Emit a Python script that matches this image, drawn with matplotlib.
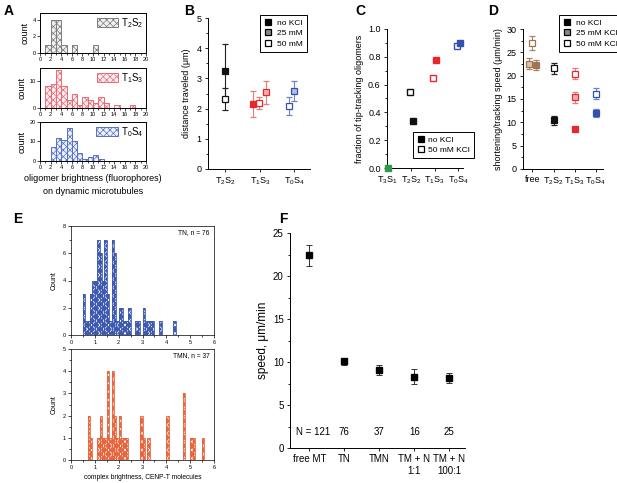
import matplotlib
matplotlib.use('Agg')
import matplotlib.pyplot as plt
import numpy as np
from matplotlib.ticker import MultipleLocator
from matplotlib.lines import Line2D

plt.rcParams['font.family'] = ['Liberation Sans', 'DejaVu Sans']
plt.rcParams['mathtext.fontset'] = 'custom'
plt.rcParams['mathtext.rm'] = 'Liberation Sans'
plt.rcParams['mathtext.it'] = 'Liberation Sans'
plt.rcParams['hatch.linewidth'] = 0.5
plt.rcParams['axes.linewidth'] = 0.7

# ---------------- data ----------------
# A: oligomer brightness histograms (bin left edge, count)
a_t2s2_left = [1, 2, 3, 4, 6, 10]
a_t2s2_count = [1, 4, 4, 1, 1, 1]
a_t1s3_left = [1, 2, 3, 4, 5, 6, 7, 8, 9, 10, 11, 12, 14, 17]
a_t1s3_count = [8, 9, 14, 8, 3, 5, 1, 4, 3, 2, 4, 2, 1, 1]
a_t0s4_left = [2, 3, 4, 5, 6, 7, 8, 9, 10, 11]
a_t0s4_count = [7, 12, 11, 17, 10, 4, 1, 2, 3, 1]

# B: distance traveled (um)
b_groups = ['T$_2$S$_2$', 'T$_1$S$_3$', 'T$_0$S$_4$']
b_nokcl = [3.23, 2.15, np.nan]
b_nokcl_err = [0.92, 0.44, np.nan]
b_25mm = [np.nan, 2.54, 2.57]
b_25mm_err = [np.nan, 0.38, 0.33]
b_50mm = [2.31, 2.19, 2.10]
b_50mm_err = [0.37, 0.19, 0.30]

# C: fraction of tip-tracking oligomers
c_groups = ['T$_3$S$_1$', 'T$_2$S$_2$', 'T$_1$S$_3$', 'T$_0$S$_4$']
c_nokcl = [0.0, 0.34, 0.78, 0.90]
c_50mm = [np.nan, 0.55, 0.645, 0.875]

# D: shortening / tracking speed (um/min)
d_groups = ['free', 'T$_2$S$_2$', 'T$_1$S$_3$', 'T$_0$S$_4$']
d_nokcl = [22.3, 10.4, 8.6, 12.0]
d_nokcl_err = [1.1, 0.9, 0.5, 0.8]
d_25mm = [22.6, np.nan, 15.4, np.nan]
d_25mm_err = [1.1, np.nan, 1.2, np.nan]
d_50mm = [27.0, 21.6, 20.4, 16.1]
d_50mm_err = [1.4, 1.2, 1.2, 1.2]

# E: complex brightness histograms (bin left edge, count), bin width 0.1
e_tn_left = [0.5, 0.6, 0.7, 0.8, 0.9, 1.0, 1.1, 1.2, 1.3, 1.4, 1.5, 1.6, 1.7, 1.8, 1.9,
             2.0, 2.1, 2.2, 2.3, 2.4, 2.7, 2.8, 3.0, 3.1, 3.2, 3.3, 3.4, 3.7, 4.3]
e_tn_count = [3, 1, 1, 3, 4, 4, 7, 6, 4, 7, 3, 1, 7, 6, 1,
              2, 2, 1, 1, 2, 1, 1, 2, 1, 1, 1, 1, 1, 1]
e_tmn_left = [0.7, 0.8, 1.1, 1.2, 1.3, 1.4, 1.5, 1.6, 1.7, 1.8, 1.9, 2.0, 2.1, 2.2, 2.3,
              2.9, 3.0, 3.2, 4.0, 4.7, 5.0, 5.1, 5.5]
e_tmn_count = [2, 1, 1, 2, 1, 1, 4, 1, 4, 2, 1, 2, 1, 1, 1,
               2, 1, 1, 2, 3, 1, 1, 1]

# F: speed (um/min)
f_labels = ['free MT', 'TN', 'TMN', 'TM + N\n1:1', 'TM + N\n100:1']
f_speed = [22.4, 10.1, 9.05, 8.3, 8.15]
f_err = [1.25, 0.4, 0.6, 0.9, 0.6]
f_n = ['N = 121', '76', '37', '16', '25']

# ---------------- figure ----------------
W, H = 617, 483
fig = plt.figure(figsize=(W / 100, H / 100), dpi=100)


def add_ax(x0, y0, x1, y1):
    return fig.add_axes([x0 / W, 1 - y1 / H, (x1 - x0) / W, (y1 - y0) / H])


def panel_letter(x, y, s):
    fig.text(x / W, 1 - y / H, s, fontsize=10, fontweight='bold', ha='left', va='center')


BLACK = '#111111'
RED = '#e8262c'
BLUE = '#3452ad'
BROWN = '#9e7653'
GREEN = '#2e9a50'
light = {BLACK: '#8a8a8a', RED: '#f6b0b0', BLUE: '#b0bde8', BROWN: '#dcc4aa'}
ebar = {BLACK: '#222222', RED: '#ee7b7b', BLUE: '#6d84cc', BROWN: '#a98563'}

# ---- A ----
a_sets = [(a_t2s2_left, a_t2s2_count, '#7c7c7c', '#f0f0f0', 'T$_2$S$_2$', (0, 4.8), [0, 2, 4]),
          (a_t1s3_left, a_t1s3_count, '#e86a76', '#fff0f1', 'T$_1$S$_3$', (0, 14.8), [0, 10]),
          (a_t0s4_left, a_t0s4_count, '#5470c4', '#eef1fb', 'T$_0$S$_4$', (0, 20), [0, 10, 20])]
a_rows = [(13, 53), (68, 108), (122, 161)]
for (left, cnt, col, fc, lab, ylim, yt), (y0, y1) in zip(a_sets, a_rows):
    ax = add_ax(40, y0, 146, y1)
    bars = ax.bar(left, cnt, width=1, align='edge', facecolor=fc, edgecolor=col,
                  hatch='xxxxx', linewidth=0.7)
    ax.set_xlim(0, 20)
    ax.set_ylim(*ylim)
    ax.set_yticks(yt)
    ax.set_xticks(range(0, 21, 2))
    ax.xaxis.set_minor_locator(MultipleLocator(1))
    ax.tick_params(labelsize=4, length=2, width=0.5, pad=1)
    ax.tick_params(which='minor', length=1.2, width=0.5)
    ax.set_ylabel('count', fontsize=6.5, labelpad=2)
    ax.legend([bars[0]], [lab], loc='upper right', fontsize=7, frameon=False,
              handlelength=2.2, handleheight=1.0, handletextpad=0.3, borderpad=0.1,
              borderaxespad=0.2)
ax.set_xlabel('oligomer brightness (fluorophores)\non dynamic microtubules', fontsize=6.5,
              labelpad=3, linespacing=1.5)
panel_letter(4, 11, 'A')


def draw_points(ax, vals, errs, colors, offsets, style, ms=4.2, cap=2):
    for i, (v, e) in enumerate(zip(vals, errs)):
        if np.isnan(v):
            continue
        c = colors[i]
        if style == 'filled':
            mfc = c
        elif style == 'half':
            mfc = light[c]
        else:
            mfc = 'white'
        ax.errorbar(i + offsets[i], v, yerr=e, fmt='s', ms=ms, mfc=mfc, mec=c, mew=0.9,
                    ecolor=ebar[c], elinewidth=0.8, capsize=cap, capthick=0.8, zorder=3,
                    clip_on=False)


def style_cat_axis(ax, labels, fs=6.5):
    ax.spines['top'].set_visible(False)
    ax.spines['right'].set_visible(False)
    ax.set_xticks(range(len(labels)))
    ax.set_xticklabels(labels, fontsize=fs)
    ax.tick_params(labelsize=fs, length=2.5, width=0.6, pad=2)
    ax.tick_params(which='minor', length=1.5, width=0.6)


def add_legend(ax, entries, x0, y0, fs, textpad=0.6):
    handles = [Line2D([], [], marker='s', ls='', ms=4, mfc=f, mec='black', mew=0.9)
               for f, _ in entries]
    leg = ax.legend(handles, [t for _, t in entries], loc='upper left',
                    bbox_to_anchor=(x0 / W, 1 - y0 / H), bbox_transform=fig.transFigure,
                    borderaxespad=0, fontsize=fs, fancybox=False, edgecolor='black',
                    handlelength=1.0, handletextpad=textpad, borderpad=0.45,
                    labelspacing=0.35, framealpha=1)
    leg.get_frame().set_linewidth(0.7)


# ---- B ----
ax = add_ax(208, 18, 310, 169)
b_cols = [BLACK, RED, BLUE]
draw_points(ax, b_50mm, b_50mm_err, b_cols, [0, -0.02, -0.17], 'open')
draw_points(ax, b_nokcl, b_nokcl_err, b_cols, [0, -0.21, 0], 'filled')
draw_points(ax, b_25mm, b_25mm_err, b_cols, [0, 0.17, 0], 'half')
ax.set_xlim(-0.5, 2.45)
ax.set_ylim(0, 5)
ax.yaxis.set_minor_locator(MultipleLocator(0.5))
style_cat_axis(ax, b_groups)
ax.set_ylabel('distance traveled (\u03bcm)', fontsize=6.5, labelpad=4)
add_legend(ax, [('black', 'no KCl'), ('#888888', '25 mM'), ('white', '50 mM')], 260, 15, 6)
panel_letter(184, 11, 'B')

# ---- C ----
ax = add_ax(387, 29, 463, 168)
c_cols = [GREEN, BLACK, RED, BLUE]
for i, v in enumerate(c_50mm):
    if not np.isnan(v):
        ax.plot(i - 0.06, v, 's', ms=4.5, mfc='white', mec=c_cols[i], mew=1.0, zorder=3)
for i, v in enumerate(c_nokcl):
    off = 0 if i == 0 else 0.06
    ax.plot(i + off, v, 's', ms=4.5, mfc=c_cols[i], mec=c_cols[i], mew=1.0, zorder=4,
            clip_on=False)
ax.set_xlim(-0.03, 3.2)
ax.set_ylim(0, 1.0)
ax.yaxis.set_major_locator(MultipleLocator(0.2))
ax.yaxis.set_minor_locator(MultipleLocator(0.1))
style_cat_axis(ax, c_groups)
ax.yaxis.set_major_formatter(matplotlib.ticker.FormatStrFormatter('%.1f'))
ax.set_ylabel('fraction of tip-tracking oligomers', fontsize=6.5, labelpad=3)
add_legend(ax, [('black', 'no KCl'), ('white', '50 mM KCl')], 413, 132, 6, textpad=0.4)
panel_letter(355, 11, 'C')

# ---- D ----
ax = add_ax(523, 29, 603, 169)
d_cols = [BROWN, BLACK, RED, BLUE]
draw_points(ax, d_50mm, d_50mm_err, d_cols, [0, 0, 0, 0], 'open', ms=4)
draw_points(ax, d_25mm, d_25mm_err, d_cols, [-0.15, 0, 0, 0], 'half', ms=4)
draw_points(ax, d_nokcl, d_nokcl_err, d_cols, [0.18, 0, 0, 0], 'filled', ms=4)
ax.set_xlim(-0.45, 3.35)
ax.set_ylim(0, 30)
ax.yaxis.set_major_locator(MultipleLocator(5))
ax.yaxis.set_minor_locator(MultipleLocator(2.5))
style_cat_axis(ax, d_groups)
ax.set_ylabel('shortening/tracking speed (\u03bcm/min)', fontsize=6.5, labelpad=3)
add_legend(ax, [('black', 'no KCl'), ('#888888', '25 mM KCl'), ('white', '50 mM KCl')],
           559, 15, 6)
panel_letter(488, 11, 'D')

# ---- E ----
e_sets = [(e_tn_left, e_tn_count, '#3d5ab0', 'TN, n = 76', 8, 2, (226, 335)),
          (e_tmn_left, e_tmn_count, '#e8663e', 'TMN, n = 37', 5, 1, (349, 460))]
for left, cnt, col, lab, ymax, ystep, (y0, y1) in e_sets:
    ax = add_ax(71, y0, 214, y1)
    # coloured fill with fine white cross-hatch, then coloured outline
    ax.bar(left, cnt, width=0.1, align='edge', facecolor=col, edgecolor='white',
           hatch='xxxx', linewidth=0)
    ax.bar(left, cnt, width=0.1, align='edge', facecolor='none', edgecolor=col,
           linewidth=0.6)
    ax.set_xlim(0, 6)
    ax.set_ylim(0, ymax)
    ax.yaxis.set_major_locator(MultipleLocator(ystep))
    ax.yaxis.set_minor_locator(MultipleLocator(ystep / 2))
    ax.xaxis.set_major_locator(MultipleLocator(1))
    ax.xaxis.set_minor_locator(MultipleLocator(0.5))
    ax.tick_params(labelsize=4, length=2, width=0.5, pad=1.5)
    ax.tick_params(which='minor', length=1.2, width=0.5)
    for s in ax.spines.values():
        s.set_linewidth(0.5)
    ax.set_ylabel('Count', fontsize=5, labelpad=4)
    ax.text(0.97, 0.97, lab, transform=ax.transAxes, ha='right', va='top', fontsize=4.8)
ax.set_xlabel('complex brightness, CENP-T molecules', fontsize=4.8, labelpad=3)
panel_letter(13, 219, 'E')

# ---- F ----
ax = add_ax(290, 233, 465, 448)
xs = np.arange(len(f_speed))
ax.errorbar(xs, f_speed, yerr=f_err, fmt='s', ms=4.5, mfc='black', mec='black',
            ecolor='#333333', elinewidth=0.7, capsize=2.2, capthick=0.7, zorder=3)
for x, t in zip(xs, f_n):
    ax.text(x + (0.1 if x == 0 else 0), 1.3, t, ha='center', va='bottom', fontsize=7)
ax.set_xlim(-0.55, 4.45)
ax.set_ylim(0, 25)
ax.yaxis.set_major_locator(MultipleLocator(5))
ax.yaxis.set_minor_locator(MultipleLocator(2.5))
style_cat_axis(ax, f_labels, fs=7)
ax.set_ylabel('speed, \u03bcm/min', fontsize=8.5, labelpad=3)
panel_letter(279, 219, 'F')

fig.savefig('out.png', dpi=100)
